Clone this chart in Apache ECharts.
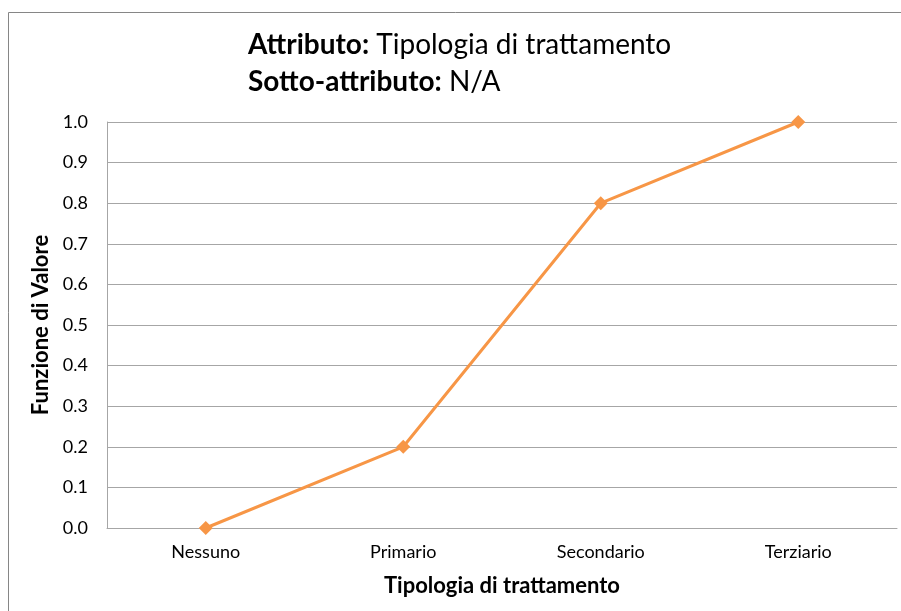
<!DOCTYPE html>
<html>
<head>
<meta charset="utf-8">
<script src="https://cdn.jsdelivr.net/npm/echarts@6/dist/echarts.min.js"></script>
<style>
  html, body { margin: 0; padding: 0; background: #fff; }
  #chart { width: 901px; height: 611px; }
</style>
</head>
<body>
<div id="chart"></div>
<script>
// data
const categories = ["Nessuno", "Primario", "Secondario", "Terziario"];
const valori = [0.0, 0.2, 0.8, 1.0];
const yTicks = { min: 0, max: 1, interval: 0.1 };

const fontFam = "Lato, 'Open Sans', sans-serif";

const chart = echarts.init(document.getElementById("chart"));

const option = {
    backgroundColor: "#ffffff",
    animation: false,
    textStyle: { fontFamily: fontFam },
    graphic: [
        {
            // outer frame, runs off the right and bottom edges
            type: "rect",
            shape: { x: 8.5, y: 12.5, width: 1000, height: 1000 },
            style: { fill: "none", stroke: "#868686", lineWidth: 1 },
            silent: true
        },
        {
            type: "text",
            left: 248,
            top: 31,
            style: {
                text: "{b|Attributo:}{n| Tipologia di trattamento}\n{b|Sotto-attributo:}{n| N/A}",
                rich: {
                    b: { fontFamily: fontFam, fontSize: 28, fontWeight: "bold", color: "#000", lineHeight: 37 },
                    n: { fontFamily: fontFam, fontSize: 28, color: "#000", lineHeight: 37 }
                }
            }
        }
    ],
    grid: { left: 107, right: 4, top: 122, bottom: 83, containLabel: false },
    xAxis: {
        type: "category",
        data: categories,
        boundaryGap: true,
        name: "Tipologia di trattamento",
        nameLocation: "middle",
        nameGap: 47,
        nameTextStyle: { fontFamily: fontFam, fontSize: 22, fontWeight: "bold", color: "#000" },
        axisLine: { lineStyle: { color: "#a6a6a6", width: 1 } },
        axisTick: { show: false },
        axisLabel: { color: "#000", fontSize: 18, margin: 15, fontFamily: fontFam }
    },
    yAxis: {
        type: "value",
        min: yTicks.min,
        max: yTicks.max,
        interval: yTicks.interval,
        name: "Funzione di Valore",
        nameLocation: "middle",
        nameGap: 51,
        nameTextStyle: { fontFamily: fontFam, fontSize: 22, fontWeight: "bold", color: "#000" },
        axisLine: { show: true, lineStyle: { color: "#a6a6a6", width: 1 } },
        axisTick: { show: false },
        axisLabel: {
            color: "#000",
            fontSize: 18,
            margin: 19,
            fontFamily: fontFam,
            formatter: v => v.toFixed(1)
        },
        splitLine: { lineStyle: { color: "#a6a6a6", width: 1 } }
    },
    series: [
        {
            type: "line",
            data: valori,
            symbol: "diamond",
            symbolSize: 14,
            lineStyle: { color: "#F79646", width: 3 },
            itemStyle: { color: "#F79646" }
        }
    ]
};

chart.setOption(option);
</script>
</body>
</html>
